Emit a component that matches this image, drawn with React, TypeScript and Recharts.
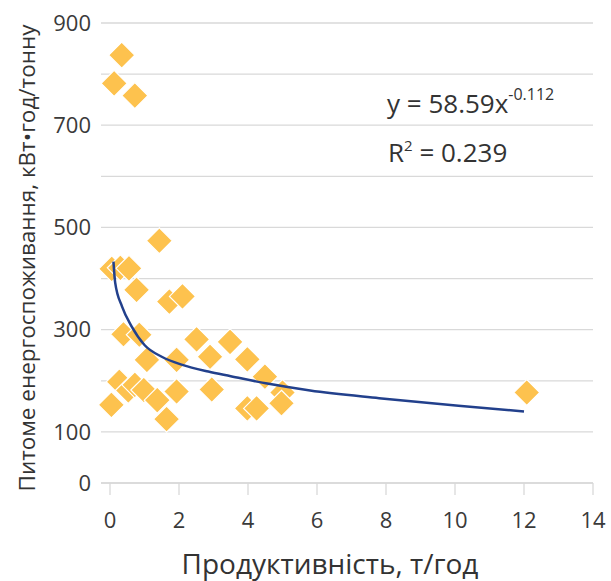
import { ComposedChart, Scatter, XAxis, YAxis, CartesianGrid } from 'recharts';

// productivity, t/h
const productivity = [
  0.12, 0.34, 0.72, 1.43, 0.05, 0.3, 0.55, 0.77, 1.72, 2.1, 0.39,
  0.85, 2.51, 3.48, 1.07, 1.93, 2.9, 3.98, 4.49, 5.0, 4.97, 0.27,
  0.53, 0.72, 0.98, 1.37, 1.93, 2.95, 0.04, 1.64, 3.98, 4.25, 12.08,
];
// specific energy consumption, kWh/t
const energy = [
  782, 837, 758, 474, 419, 421, 420, 378, 355, 365, 291,
  290, 281, 276, 241, 241, 247, 242, 208, 177, 156, 198,
  181, 192, 182, 162, 179, 183, 153, 125, 146, 146, 177,
];

// power trend line
const trendX = [0.1, 0.15, 0.35, 0.63, 1.0, 1.5, 2.1, 2.85, 3.5, 4.6, 5.8, 7.8, 10.1, 12.0];
const trendY = [433, 392, 345, 306, 270, 247, 231, 218, 209, 194, 181, 166, 151, 140];

const xTicks = [0, 2, 4, 6, 8, 10, 12, 14];
const yTicks = [0, 100, 200, 300, 400, 500, 600, 700, 800, 900];
const yLabels = [0, 100, 300, 500, 700, 900];

const points = productivity.map((x, i) => ({ x, y: energy[i] }));
const trend = trendX.map((x, i) => ({ x, y: trendY[i] }));

const Diamond = (props: any) => {
  const { cx, cy } = props;
  const r = 13;
  return (
    <polygon
      points={`${cx},${cy - r} ${cx + r},${cy} ${cx},${cy + r} ${cx - r},${cy}`}
      fill="#FDC24E"
      stroke="#fff"
      strokeWidth={1.2}
    />
  );
};

export default function App() {
  return (
    <div style={{ position: 'absolute', left: 0, top: 0, width: 611, height: 581, fontFamily: '"Open Sans", sans-serif' }}>
      <ComposedChart width={611} height={581} margin={{ top: 23, right: 18, bottom: 0, left: 0 }}>
        <CartesianGrid vertical={false} stroke="#D9D9D9" strokeWidth={1.3} />
        <XAxis
          type="number"
          dataKey="x"
          domain={[0, 14]}
          ticks={xTicks}
          padding={{ left: 9, right: 0 }}
          height={98}
          axisLine={{ stroke: '#D9D9D9', strokeWidth: 1.3 }}
          tickLine={{ stroke: '#D9D9D9', strokeWidth: 1.3 }}
          tickSize={12}
          tickMargin={17}
          tick={{ fill: '#3a3a3a', fontSize: 22 }}
          label={{ value: 'Продуктивність, т/год', position: 'insideBottom', offset: 7, dx: -17, fill: '#333', fontSize: 28 }}
        />
        <YAxis
          type="number"
          dataKey="y"
          domain={[0, 900]}
          ticks={yTicks}
          width={101}
          axisLine={false}
          tickLine={false}
          tickMargin={4}
          tick={{ fill: '#3a3a3a', fontSize: 22 }}
          tickFormatter={(v: number) => (yLabels.includes(v) ? String(v) : '')}
          label={{ value: 'Питоме енергоспоживання, кВт•год/тонну', angle: -90, position: 'center', dx: -23, dy: 5, fill: '#333', fontSize: 22.5 }}
        />
        <Scatter data={points} shape={Diamond} isAnimationActive={false} />
        <Scatter
          data={trend}
          line={{ stroke: '#22408C', strokeWidth: 2.5 }}
          lineJointType="monotoneX"
          shape={() => null}
          isAnimationActive={false}
        />
      </ComposedChart>
      <svg width={611} height={581} style={{ position: 'absolute', left: 0, top: 0, pointerEvents: 'none' }}>
        <text x={387} y={113} fontSize={26} fill="#333">
          y = 58.59x<tspan fontSize={16} dy={-13}>-0.112</tspan>
        </text>
        <text x={388} y={162} fontSize={26} fill="#333">
          R<tspan fontSize={15} dy={-11}>2</tspan>
          <tspan dy={11}> = 0.239</tspan>
        </text>
      </svg>
    </div>
  );
}
